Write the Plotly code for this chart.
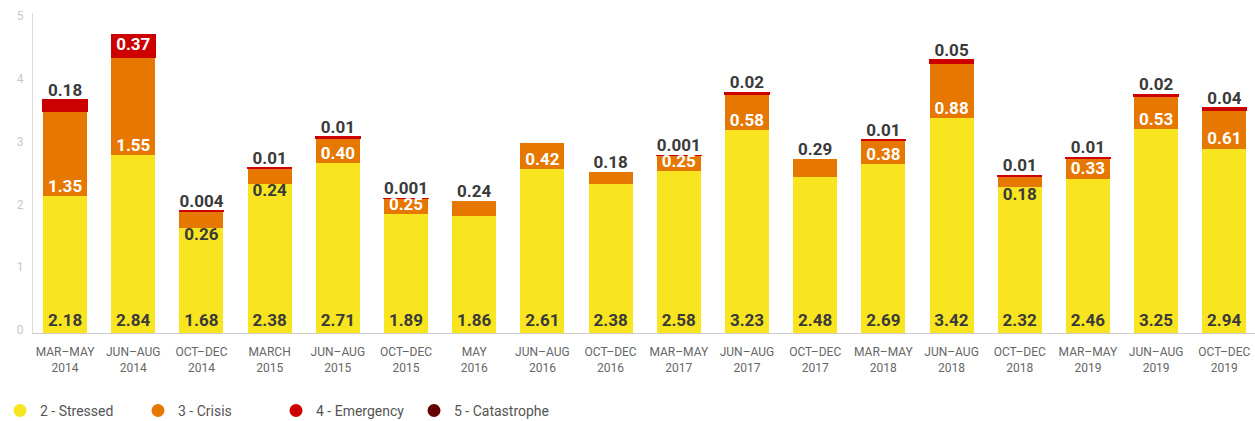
import plotly.graph_objects as go

periods = ["MAR–MAY<br>2014", "JUN–AUG<br>2014", "OCT–DEC<br>2014", "MARCH<br>2015",
           "JUN–AUG<br>2015", "OCT–DEC<br>2015", "MAY<br>2016", "JUN–AUG<br>2016",
           "OCT–DEC<br>2016", "MAR–MAY<br>2017", "JUN–AUG<br>2017", "OCT–DEC<br>2017",
           "MAR–MAY<br>2018", "JUN–AUG<br>2018", "OCT–DEC<br>2018", "MAR–MAY<br>2019",
           "JUN–AUG<br>2019", "OCT–DEC<br>2019"]
stressed = [2.18, 2.84, 1.68, 2.38, 2.71, 1.89, 1.86, 2.61, 2.38,
            2.58, 3.23, 2.48, 2.69, 3.42, 2.32, 2.46, 3.25, 2.94]
crisis = [1.35, 1.55, 0.26, 0.24, 0.40, 0.25, 0.24, 0.42, 0.18,
          0.25, 0.58, 0.29, 0.38, 0.88, 0.18, 0.33, 0.53, 0.61]
emergency = [0.18, 0.37, 0.004, 0.01, 0.01, 0.001, None, None, None,
             0.001, 0.02, None, 0.01, 0.05, 0.01, 0.01, 0.02, 0.04]
catastrophe = [None] * len(periods)

# where the crisis label goes: inside the orange, under it (in the yellow) or above the bar
crisis_label_pos = ["in", "in", "below", "below", "in", "in", "above", "in", "above",
                    "in", "in", "above", "in", "in", "below", "in", "in", "in"]
# emergency label: above the bar, or inside the red block
emergency_label_pos = ["above", "in"] + ["above"] * 16

YELLOW = "#F8E51F"
ORANGE = "#E67700"
RED = "#CC0000"
DARK_RED = "#650000"
LABEL = "#3a3a3a"
FONT = "Roboto, sans-serif"
LBL_SIZE = 17


def fmt(v):
    return f"{v:.3f}" if v < 0.01 else f"{v:.2f}"


fig = go.Figure()

fig.add_trace(go.Bar(
    x=periods, y=stressed, marker=dict(color=YELLOW, line=dict(width=0)),
    text=[f"{v:.2f}" for v in stressed], textposition="inside",
    insidetextanchor="start", textangle=0, constraintext="none",
    textfont=dict(family=FONT, size=LBL_SIZE, color=LABEL, weight="bold"),
    showlegend=False, hoverinfo="skip"))
fig.add_trace(go.Bar(
    x=periods, y=crisis, marker=dict(color=ORANGE, line=dict(width=0)),
    showlegend=False, hoverinfo="skip"))
fig.add_trace(go.Bar(
    x=periods, y=emergency, marker=dict(color=RED, line=dict(color=RED, width=1.5)),
    showlegend=False, hoverinfo="skip"))
fig.add_trace(go.Bar(
    x=periods, y=catastrophe, marker=dict(color=DARK_RED),
    showlegend=False, hoverinfo="skip"))

# crisis labels
groups = {"in": ([], [], [], "top center", "white"),
          "below": ([], [], [], "bottom center", LABEL),
          "above": ([], [], [], "top center", LABEL)}
for i, p in enumerate(periods):
    xs, ys, ts, _, _ = groups[crisis_label_pos[i]]
    xs.append(p)
    ts.append(fmt(crisis[i]))
    if crisis_label_pos[i] == "above":
        ys.append(stressed[i] + crisis[i])
    else:
        ys.append(stressed[i])
for key, (xs, ys, ts, pos, col) in groups.items():
    fig.add_trace(go.Scatter(
        x=xs, y=ys, text=ts, mode="text", textposition=pos, cliponaxis=False,
        textfont=dict(family=FONT, size=LBL_SIZE, color=col, weight="bold"),
        showlegend=False, hoverinfo="skip"))

# emergency labels
ex_a, ey_a, et_a, ex_i, ey_i, et_i = [], [], [], [], [], []
for i, p in enumerate(periods):
    if emergency[i] is None:
        continue
    top = stressed[i] + crisis[i] + emergency[i]
    if emergency_label_pos[i] == "in":
        ex_i.append(p); ey_i.append(top - emergency[i] / 2); et_i.append(fmt(emergency[i]))
    else:
        ex_a.append(p); ey_a.append(top); et_a.append(fmt(emergency[i]))
fig.add_trace(go.Scatter(
    x=ex_a, y=ey_a, text=et_a, mode="text", textposition="top center", cliponaxis=False,
    textfont=dict(family=FONT, size=LBL_SIZE, color=LABEL, weight="bold"),
    showlegend=False, hoverinfo="skip"))
fig.add_trace(go.Scatter(
    x=ex_i, y=ey_i, text=et_i, mode="text", textposition="middle center", cliponaxis=False,
    textfont=dict(family=FONT, size=LBL_SIZE, color="white", weight="bold"),
    showlegend=False, hoverinfo="skip"))

# legend entries with round markers
for name, col in [("2 - Stressed", YELLOW), ("3 - Crisis", ORANGE),
                  ("4 - Emergency", RED), ("5 - Catastrophe", DARK_RED)]:
    fig.add_trace(go.Scatter(
        x=[None], y=[None], mode="markers", name=name,
        marker=dict(color=col, size=13, symbol="circle")))

fig.update_layout(
    barmode="stack", bargap=0.355,
    width=1255, height=421,
    margin=dict(l=33, r=0, t=13, b=88),
    paper_bgcolor="white", plot_bgcolor="white",
    font=dict(family=FONT),
    legend=dict(orientation="h", traceorder="normal",
                xref="container", x=-0.012, xanchor="left",
                yref="container", y=0.024, yanchor="middle",
                font=dict(size=14, color="#555555"), entrywidth=93,
                itemclick=False),
)
fig.update_xaxes(
    range=[-0.47, 17.45], showline=True, linecolor="#cccccc", linewidth=1,
    showgrid=False, ticks="", automargin=False, ticklabelstandoff=8,
    tickfont=dict(size=12, color="#666666"))
fig.update_yaxes(
    range=[0, 5.1], tickvals=[0, 1, 2, 3, 4, 5], showline=True, linecolor="#dddddd",
    linewidth=1, showgrid=False, zeroline=False, ticks="", ticklen=0, ticklabelshift=-3,
    ticklabelstandoff=6, automargin=False, tickfont=dict(size=12, color="#c8c8c8"))

# drop the default 8px page margin so the figure fills the window exactly
fig.write_html("out.html", config={"displayModeBar": False},
               post_script="document.body.style.margin='0';document.body.style.overflow='hidden';")
